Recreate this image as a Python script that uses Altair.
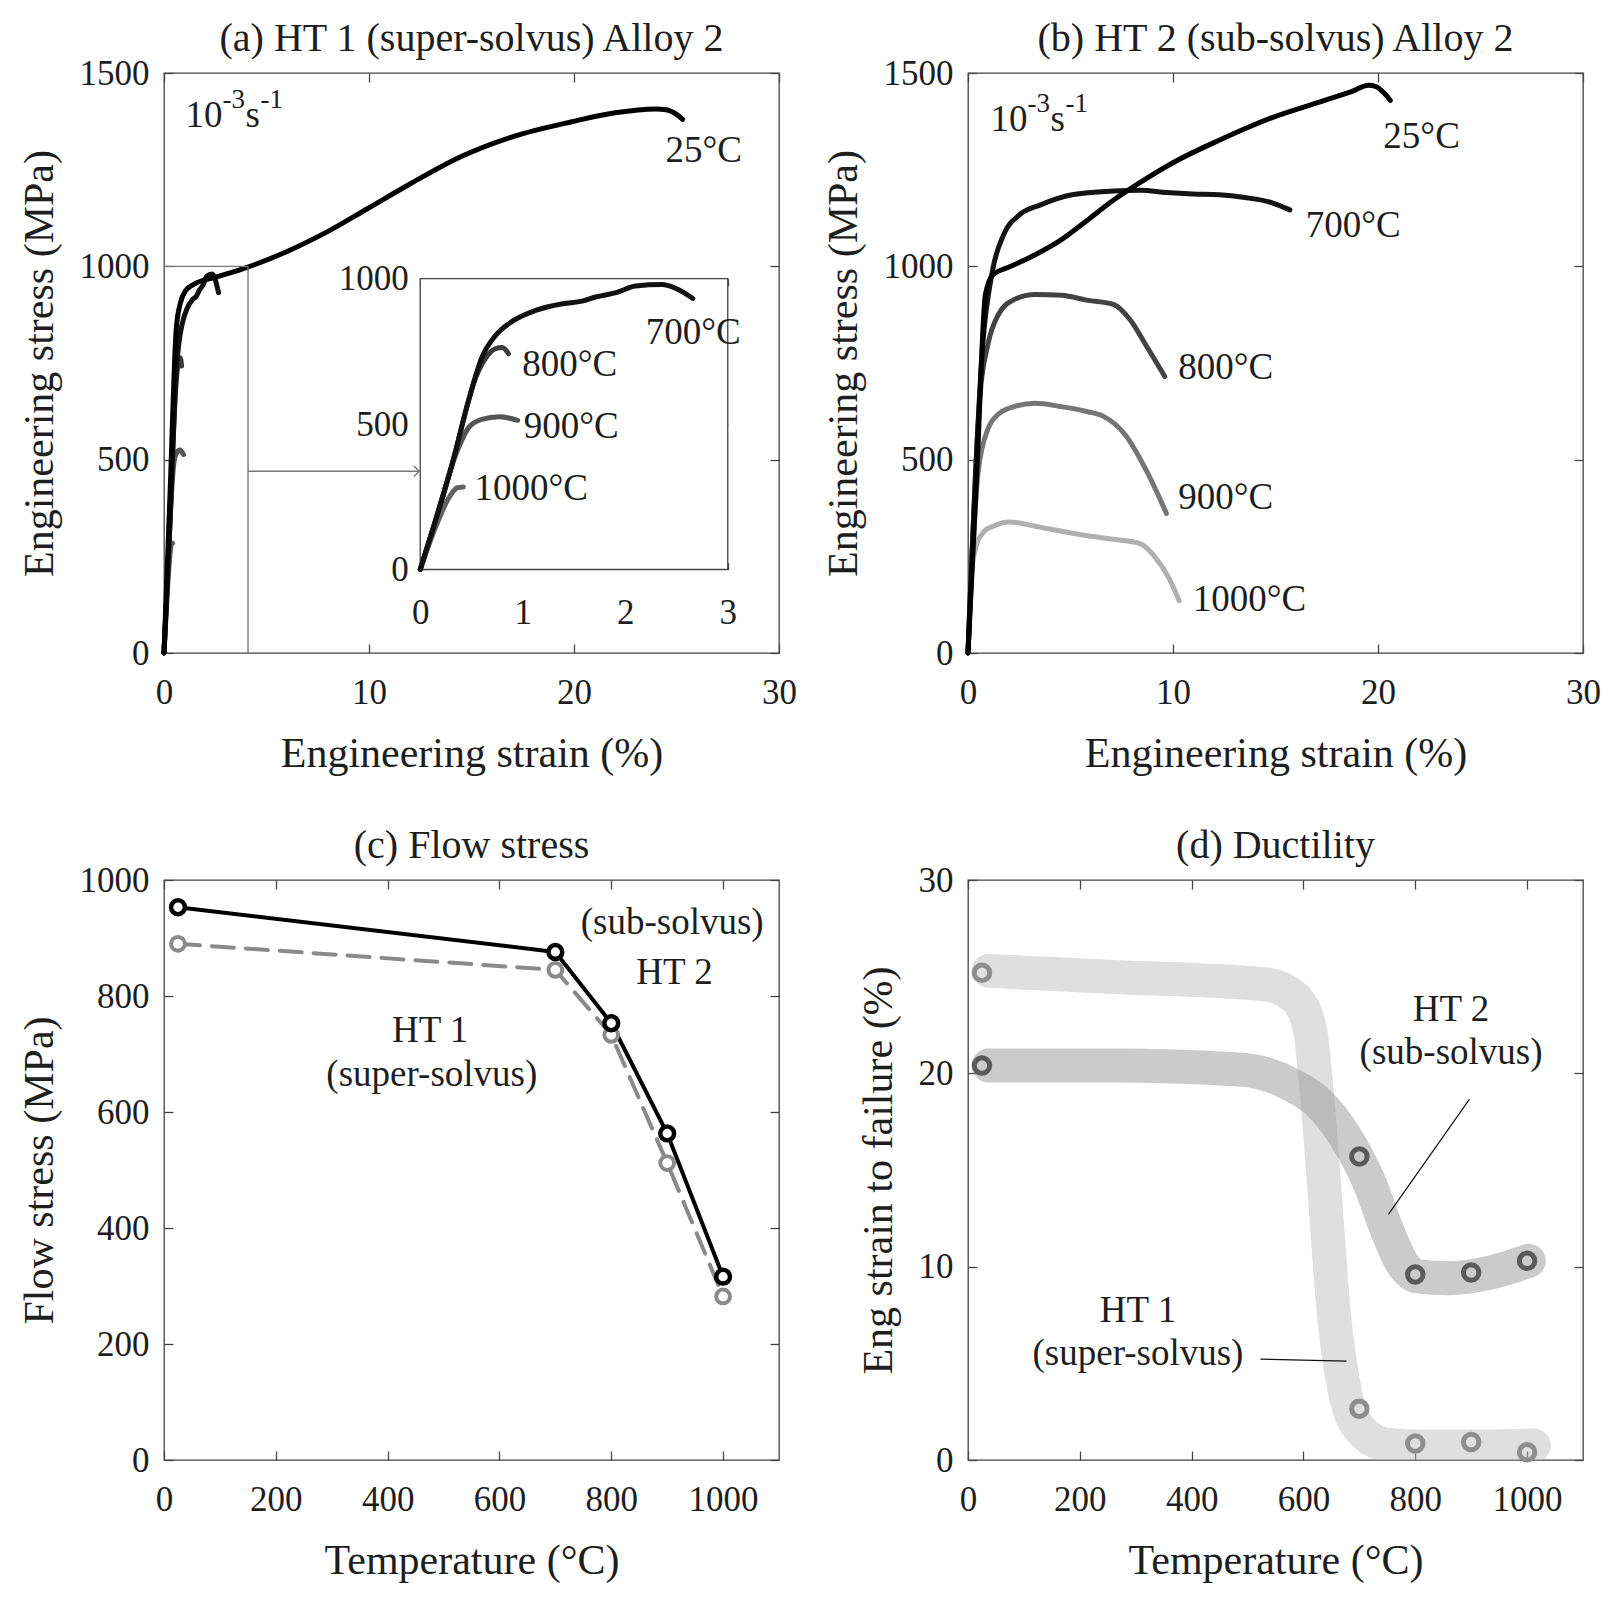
import altair as alt
import pandas as pd

FONT = "Liberation Serif"
TXT = "#1e1e1e"
FRAME = "#454545"
W, H = 615, 580
TICK = 9

# ---------------- data: panel (a) HT1 stress-strain ----------------
a25_strain = [0, 0.3, 0.6, 0.8, 1.05, 1.54, 2.54, 4.09, 6.03, 8.02, 9.92, 12.0, 14.5, 17.0, 19.9, 22.0, 24.0, 24.5, 25.0, 25.3]
a25_stress = [0, 420, 840, 905, 937, 956, 972, 998, 1039, 1091, 1149, 1213, 1284, 1335, 1374, 1397, 1407, 1405, 1393, 1380]
a700_strain = [0, 0.147, 0.31, 0.47, 0.60, 0.73, 0.90, 1.125, 1.39, 1.58, 1.71, 1.91, 2.10, 2.36, 2.49, 2.66]
a700_stress = [0, 166, 361, 579, 728, 803, 854, 891, 914, 923, 937, 952, 975, 980, 967, 932]
a800_strain = [0, 0.147, 0.31, 0.54, 0.64, 0.73, 0.80, 0.86]
a800_stress = [0, 166, 361, 659, 728, 759, 763, 742]
a900_strain = [0, 0.147, 0.36, 0.47, 0.60, 0.77, 0.95]
a900_stress = [0, 166, 407, 487, 516, 525, 513]
a1000_strain = [0, 0.147, 0.28, 0.36, 0.42]
a1000_stress = [0, 143, 247, 281, 284]

# ---------------- data: panel (b) HT2 stress-strain ----------------
b25_strain = [0, 0.45, 0.85, 1.23, 2.0, 3.28, 4.56, 5.84, 7.12, 8.4, 10.0, 12.25, 14.8, 17.4, 18.7, 19.55, 19.9, 20.3, 20.6]
b25_stress = [0, 490, 927, 979, 998, 1030, 1069, 1120, 1172, 1217, 1268, 1326, 1384, 1429, 1452, 1468, 1465, 1448, 1429]
b700_strain = [0, 0.72, 1.2, 1.74, 2.51, 3.54, 5.07, 7.12, 8.4, 9.68, 10.96, 12.25, 13.5, 14.8, 15.7]
b700_stress = [0, 798, 990, 1082, 1133, 1159, 1185, 1195, 1197, 1191, 1187, 1185, 1178, 1165, 1146]
b800_strain = [0, 0.59, 0.97, 1.49, 2.25, 3.28, 4.56, 5.84, 7.12, 7.89, 8.66, 9.6]
b800_stress = [0, 670, 798, 876, 914, 927, 925, 912, 901, 863, 798, 715]
b900_strain = [0, 0.5, 0.97, 1.49, 2.0, 3.28, 4.56, 5.84, 6.61, 7.63, 8.66, 9.68]
b900_stress = [0, 470, 579, 618, 633, 646, 637, 624, 612, 567, 476, 361]
b1000_strain = [0, 0.2, 0.45, 0.8, 1.23, 2.0, 3.28, 4.56, 5.84, 7.12, 8.4, 9.17, 9.81, 10.3]
b1000_stress = [0, 220, 285, 315, 328, 339, 328, 315, 303, 294, 283, 245, 193, 135]

# ---------------- data: panel (c) flow stress ----------------
temps = [25, 700, 800, 900, 1000]
ht2_flow = [953, 876, 753, 563, 316]
ht1_flow = [890, 845, 733, 512, 282]

# ---------------- data: panel (d) ductility ----------------
ht1_duct = [25.2, 2.65, 0.85, 0.93, 0.4]
ht2_duct = [20.4, 15.7, 9.6, 9.7, 10.3]
band1_T = [37, 252, 533, 589, 612, 626, 640, 654, 673, 701, 748, 813, 907, 1012]
band1_e = [25.3, 25.0, 24.6, 23.8, 22.2, 18.3, 13.0, 7.7, 3.7, 1.6, 0.8, 0.7, 0.7, 0.75]
band2_T = [37, 252, 486, 579, 626, 673, 720, 748, 776, 804, 860, 935, 1003]
band2_e = [20.4, 20.4, 20.2, 19.4, 18.5, 16.8, 14.2, 12.0, 10.2, 9.5, 9.4, 9.7, 10.3]

# tick values
ticks_strain = [0, 10, 20, 30]
ticks_stress = [0, 500, 1000, 1500]
ticks_T = [0, 200, 400, 600, 800, 1000]
ticks_flow = [0, 200, 400, 600, 800, 1000]
ticks_duct = [0, 10, 20, 30]
inset_xt = [0, 1, 2, 3]
inset_yt = [0, 500, 1000]

# inset placement in main-panel data coordinates
INSET_X = [12.5, 27.5]
INSET_Y = [216, 968]
ZOOM_X = 4.1
ZOOM_Y = 1000
ARROW_Y = 470


def scale(dom, rng=None):
    kw = dict(domain=dom, nice=False, zero=False)
    if rng is not None:
        kw["range"] = rng
    return alt.Scale(**kw)


def X(field, dom, axis=None, rng=None):
    return alt.X(f"{field}:Q", scale=scale(dom, rng), axis=axis)


def Y(field, dom, axis=None, rng=None):
    return alt.Y(f"{field}:Q", scale=scale(dom, rng), axis=axis)


def ax_bottom(values, title, lp=22, tp=23):
    return alt.Axis(orient="bottom", values=values, title=title, offset=-TICK, tickSize=TICK,
                    domain=False, grid=False, labelPadding=lp, titlePadding=tp,
                    labelFlush=False, labelOverlap=False, format="d")


def ax_left(values, title, lp=15, tp=18):
    return alt.Axis(orient="left", values=values, title=title, offset=-TICK, tickSize=TICK,
                    domain=False, grid=False, labelPadding=lp, titlePadding=tp,
                    labelFlush=False, labelOverlap=False, format="d")


def ax_top(values, off=0):
    return alt.Axis(orient="top", values=values, labels=False, title=None, offset=-TICK - off,
                    tickSize=TICK, domain=False, grid=False)


def ax_right(values, off=0):
    return alt.Axis(orient="right", values=values, labels=False, title=None, offset=-TICK - off,
                    tickSize=TICK, domain=False, grid=False)


def line(xv, yv, xdom, ydom, color, width, xaxis=None, yaxis=None, xr=None, yr=None,
         dash=None, interp="monotone", opacity=1.0, clip=False):
    df = pd.DataFrame({"x": xv, "y": yv, "i": list(range(len(xv)))})
    kw = dict(color=color, strokeWidth=width, interpolate=interp, opacity=opacity,
              strokeCap="round", strokeJoin="round")
    if dash is not None:
        kw["strokeDash"] = dash
    if clip:
        kw["clip"] = True
    return alt.Chart(df).mark_line(**kw).encode(
        x=X("x", xdom, xaxis, xr), y=Y("y", ydom, yaxis, yr), order="i:Q")


def text(xv, yv, s, xdom, ydom, size=37, align="left", dx=0, dy=0, xr=None, yr=None, color=TXT):
    df = pd.DataFrame({"x": [xv], "y": [yv], "t": [s]})
    return alt.Chart(df).mark_text(font=FONT, fontSize=size, align=align, baseline="alphabetic",
                                   dx=dx, dy=dy, color=color).encode(
        x=X("x", xdom, None, xr), y=Y("y", ydom, None, yr), text="t:N")


def rate_text(xv, yv, xdom, ydom):
    return [
        text(xv, yv, "10", xdom, ydom, size=37),
        text(xv, yv, "-3", xdom, ydom, size=27, dx=37, dy=-19),
        text(xv, yv, "s", xdom, ydom, size=37, dx=60),
        text(xv, yv, "-1", xdom, ydom, size=27, dx=75, dy=-19),
    ]


def tick_layer(xdom, ydom, xt, yt):
    df = pd.DataFrame({"x": [xdom[0]], "y": [ydom[0]]})
    return alt.Chart(df).mark_point(opacity=0).encode(
        x=X("x", xdom, ax_top(xt)), y=Y("y", ydom, ax_right(yt)))


def panel(layers, title):
    return alt.layer(*layers).resolve_scale(x="independent", y="independent").properties(
        width=W, height=H, title=alt.TitleParams(title, offset=-3, frame="group", anchor="middle"))


# ---------------- panel (a) ----------------
SD = [0, 30]
TD = [0, 1500]
xr_in = [INSET_X[0] / SD[1] * W, INSET_X[1] / SD[1] * W]
yr_in = [H - INSET_Y[0] / TD[1] * H, H - INSET_Y[1] / TD[1] * H]
ID_X = [0, 3]
ID_Y = [0, 1000]
T2 = 7

inset_left_axis = alt.Axis(orient="left", values=inset_yt, title=None, offset=-xr_in[0] - T2, tickSize=T2,
                           domain=False, grid=False, labelPadding=12, labelFlush=False,
                           labelOverlap=False, format="d")
inset_bottom_axis = alt.Axis(orient="bottom", values=inset_xt, title=None, offset=-(H - yr_in[0]) - T2,
                             tickSize=T2, domain=False, grid=False, labelPadding=26, labelFlush=False,
                             labelOverlap=False, format="d")
inset_top_axis = alt.Axis(orient="top", values=inset_xt, labels=False, title=None, offset=-yr_in[1] - T2,
                          tickSize=T2, domain=False, grid=False)
inset_right_axis = alt.Axis(orient="right", values=[500], labels=False, title=None,
                            offset=-(W - xr_in[1]) - T2, tickSize=T2, domain=False, grid=False)

frame_df = pd.DataFrame({"x": [ID_X[0]], "x2": [ID_X[1]], "y": [ID_Y[0]], "y2": [ID_Y[1]]})
inset_frame = alt.Chart(frame_df).mark_rect(fill="white", stroke=FRAME, strokeWidth=1.3).encode(
    x=X("x", ID_X, inset_bottom_axis, xr_in), x2="x2:Q",
    y=Y("y", ID_Y, inset_left_axis, yr_in), y2="y2:Q")
inset_ticks2 = alt.Chart(frame_df).mark_point(opacity=0).encode(
    x=X("x", ID_X, inset_top_axis, xr_in), y=Y("y", ID_Y, inset_right_axis, yr_in))

zoom_v = alt.Chart(pd.DataFrame({"x": [ZOOM_X], "y": [0], "y2": [ZOOM_Y]})).mark_rule(
    color="#777777", strokeWidth=1.4).encode(x=X("x", SD), y=Y("y", TD), y2="y2:Q")
zoom_h = alt.Chart(pd.DataFrame({"x": [0], "x2": [ZOOM_X], "y": [ZOOM_Y]})).mark_rule(
    color="#777777", strokeWidth=1.4).encode(x=X("x", SD), x2="x2:Q", y=Y("y", TD))
arrow = alt.Chart(pd.DataFrame({"x": [ZOOM_X], "x2": [INSET_X[0] - 0.1], "y": [ARROW_Y]})).mark_rule(
    color="#777777", strokeWidth=1.4).encode(x=X("x", SD), x2="x2:Q", y=Y("y", TD))
arrow_head = alt.Chart(pd.DataFrame({"x": [INSET_X[0] - 0.05], "y": [ARROW_Y]})).mark_point(
    shape="M-1,-1L0,0L-1,1", filled=False, size=110, strokeWidth=1.4, color="#777777", opacity=1).encode(
    x=X("x", SD), y=Y("y", TD))

C700, C800, C900, C1000 = "#111111", "#3c3c3c", "#555555", "#626262"
LW = 5

pa = panel([
    line(a1000_strain, a1000_stress, SD, TD, C1000, LW),
    line(a900_strain, a900_stress, SD, TD, C900, LW),
    line(a800_strain, a800_stress, SD, TD, C800, LW),
    line(a700_strain, a700_stress, SD, TD, C700, LW),
    line(a25_strain, a25_stress, SD, TD, "#000000", LW,
         xaxis=ax_bottom(ticks_strain, "Engineering strain (%)"),
         yaxis=ax_left(ticks_stress, "Engineering stress (MPa)")),
    tick_layer(SD, TD, ticks_strain, ticks_stress),
    zoom_v, zoom_h, arrow, arrow_head,
    *rate_text(1.05, 1361, SD, TD),
    text(24.46, 1271, "25°C", SD, TD),
    inset_frame, inset_ticks2,
    line(a1000_strain, a1000_stress, ID_X, ID_Y, C1000, LW, xr=xr_in, yr=yr_in),
    line(a900_strain, a900_stress, ID_X, ID_Y, C900, LW, xr=xr_in, yr=yr_in),
    line(a800_strain, a800_stress, ID_X, ID_Y, C800, LW, xr=xr_in, yr=yr_in),
    line(a700_strain, a700_stress, ID_X, ID_Y, C700, LW, xr=xr_in, yr=yr_in),
    text(2.2, 776, "700°C", ID_X, ID_Y, xr=xr_in, yr=yr_in),
    text(0.995, 665, "800°C", ID_X, ID_Y, xr=xr_in, yr=yr_in),
    text(1.01, 453, "900°C", ID_X, ID_Y, xr=xr_in, yr=yr_in),
    text(0.53, 239, "1000°C", ID_X, ID_Y, xr=xr_in, yr=yr_in),
], "(a) HT 1 (super-solvus) Alloy 2")

# ---------------- panel (b) ----------------
pb = panel([
    line(b1000_strain, b1000_stress, SD, TD, "#b0b0b0", LW),
    line(b900_strain, b900_stress, SD, TD, "#767676", LW),
    line(b800_strain, b800_stress, SD, TD, "#434343", LW),
    line(b700_strain, b700_stress, SD, TD, "#141414", LW),
    line(b25_strain, b25_stress, SD, TD, "#000000", LW,
         xaxis=ax_bottom(ticks_strain, "Engineering strain (%)"),
         yaxis=ax_left(ticks_stress, "Engineering stress (MPa)")),
    tick_layer(SD, TD, ticks_strain, ticks_stress),
    *rate_text(1.1, 1351, SD, TD),
    text(20.26, 1307, "25°C", SD, TD),
    text(16.47, 1075, "700°C", SD, TD),
    text(10.25, 708, "800°C", SD, TD),
    text(10.25, 373, "900°C", SD, TD),
    text(10.96, 109, "1000°C", SD, TD),
], "(b) HT 2 (sub-solvus) Alloy 2")

# ---------------- panel (c) ----------------
TDOM = [0, 1100]
FDOM = [0, 1000]


def circles(xv, yv, xdom, ydom, stroke, size, sw, fill=None):
    df = pd.DataFrame({"x": xv, "y": yv})
    if fill is None:
        m = alt.Chart(df).mark_point(shape="circle", filled=False, stroke=stroke, strokeWidth=sw,
                                     size=size, opacity=1)
    else:
        m = alt.Chart(df).mark_point(shape="circle", filled=True, fill=fill, stroke=stroke,
                                     strokeWidth=sw, size=size, opacity=1, fillOpacity=1)
    return m.encode(x=X("x", xdom), y=Y("y", ydom))


pc = panel([
    line(temps, ht1_flow, TDOM, FDOM, "#8a8a8a", 4, dash=[22, 12], interp="linear",
         xaxis=ax_bottom(ticks_T, "Temperature (°C)"),
         yaxis=ax_left(ticks_flow, "Flow stress (MPa)")),
    line(temps, ht2_flow, TDOM, FDOM, "#000000", 4, interp="linear"),
    circles(temps, ht1_flow, TDOM, FDOM, "#8a8a8a", 190, 4, fill="white"),
    circles(temps, ht2_flow, TDOM, FDOM, "#000000", 190, 4.5, fill="white"),
    tick_layer(TDOM, FDOM, ticks_T, ticks_flow),
    text(909, 907, "(sub-solvus)", TDOM, FDOM, align="center"),
    text(913, 821, "HT 2", TDOM, FDOM, align="center"),
    text(476, 721, "HT 1", TDOM, FDOM, align="center"),
    text(479, 644, "(super-solvus)", TDOM, FDOM, align="center"),
], "(c) Flow stress")

# ---------------- panel (d) ----------------
DDOM = [0, 30]
lead_df = pd.DataFrame({"x": [897, 523], "x2": [752, 677], "y": [18.67, 5.22], "y2": [12.7, 5.11]})
leaders = alt.Chart(lead_df).mark_rule(color="#111111", strokeWidth=1.2).encode(
    x=X("x", TDOM), x2="x2:Q", y=Y("y", DDOM), y2="y2:Q")

pd_ = panel([
    line(band1_T, band1_e, TDOM, DDOM, "#bfbfbf", 34, opacity=0.5, clip=True,
         xaxis=ax_bottom(ticks_T, "Temperature (°C)"),
         yaxis=ax_left(ticks_duct, "Eng strain to failure (%)")),
    line(band2_T, band2_e, TDOM, DDOM, "#979797", 34, opacity=0.5, clip=True),
    circles(temps, ht1_duct, TDOM, DDOM, "#8e8e8e", 240, 5),
    circles(temps, ht2_duct, TDOM, DDOM, "#5a5a5a", 240, 5),
    leaders,
    tick_layer(TDOM, DDOM, ticks_T, ticks_duct),
    text(864, 22.7, "HT 2", TDOM, DDOM, align="center"),
    text(864, 20.5, "(sub-solvus)", TDOM, DDOM, align="center"),
    text(304, 7.15, "HT 1", TDOM, DDOM, align="center"),
    text(304, 4.9, "(super-solvus)", TDOM, DDOM, align="center"),
], "(d) Ductility")

chart = alt.concat(pa, pb, pc, pd_, columns=2, spacing={"row": 50, "column": 23}).properties(
    padding={"left": 9, "top": 10, "right": 5, "bottom": 5}
).configure_view(stroke=FRAME, strokeWidth=1.3).configure_axis(
    labelFont=FONT, titleFont=FONT, labelFontSize=35, titleFontSize=42,
    labelColor=TXT, titleColor=TXT, titleFontWeight="normal", tickColor=FRAME, tickWidth=1.3
).configure_title(font=FONT, fontSize=40, fontWeight="normal", color=TXT)

chart.save("out.html", embed_options={"renderer": "svg", "actions": False})
